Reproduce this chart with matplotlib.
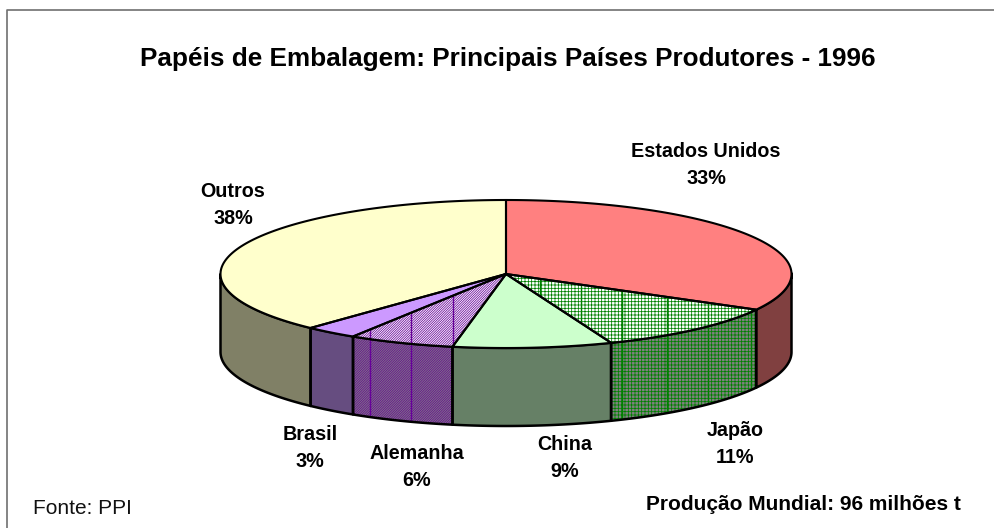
import numpy as np
import matplotlib
matplotlib.use('Agg')
import matplotlib.pyplot as plt

plt.rcParams['font.family'] = ['Liberation Sans', 'DejaVu Sans']
plt.rcParams['hatch.linewidth'] = 0.55

# dados
paises = ['Estados Unidos', 'Japão', 'China', 'Alemanha', 'Brasil', 'Outros']
valores = [33, 11, 9, 6, 3, 38]
cores = ['#FF8080', '#FFFFFF', '#CCFFCC', '#FFFFFF', '#CC99FF', '#FFFFCC']
cores_lado = ['#804040', '#808080', '#668066', '#808080', '#664D80', '#808066']
hachuras = [None, '+++++', None, '/' * 14, None, None]
cor_hachura = ['black', '#008000', 'black', '#660099', 'black', 'black']
riscos_x = [[], [540, 581, 622, 667, 708, 751], [], [370, 411, 453], [], []]
pos_rotulos = [(706, 165), (735, 444), (565, 458), (417, 467), (310, 448), (233, 205)]

# geometria da pizza em pixels
cx, cy = 506, 274
rx, ry = 285.5, 74
prof = 78

fig = plt.figure(figsize=(9.94, 5.28), dpi=100)
ax = fig.add_axes([0, 0, 1, 1])
ax.set_xlim(0, 994)
ax.set_ylim(528, 0)
ax.axis('off')


def borda(t):
    return cx + rx * np.sin(t), cy - ry * np.cos(t)


def pinta(xs, ys, i, cor, z):
    p = ax.fill(xs, ys, facecolor=cor, edgecolor='none', zorder=z)[0]
    if hachuras[i]:
        ax.fill(xs, ys, facecolor='none', edgecolor=cor_hachura[i],
                hatch=hachuras[i], lw=0, zorder=z)
        # os riscos verticais mais fortes dentro da hachura
        for rx_i in riscos_x[i]:
            r = ax.plot([rx_i, rx_i], [cy, cy + ry + prof + 10],
                        color=cor_hachura[i], lw=1.0, zorder=z)[0]
            r.set_clip_path(p)


# moldura: so topo e esquerda aparecem
ax.plot([7, 7, 994], [528, 10, 10], color='#707070', lw=1.2, zorder=1)

limites = np.radians(np.cumsum([0] + valores) * 3.6)

# lados primeiro, so a metade de baixo da elipse e visivel
for i in range(len(valores)):
    a, b = limites[i], limites[i + 1]
    a, b = max(a, np.pi / 2), min(b, 3 * np.pi / 2)
    if a >= b:
        continue
    t = np.linspace(a, b, 60)
    x, y = borda(t)
    xs = np.r_[x, x[::-1]]
    ys = np.r_[y, y[::-1] + prof]
    pinta(xs, ys, i, cores_lado[i], 2)
    ax.plot(xs.tolist() + [xs[0]], ys.tolist() + [ys[0]], color='black', lw=1.8, zorder=3)

# topo
for i in range(len(valores)):
    t = np.linspace(limites[i], limites[i + 1], 120)
    x, y = borda(t)
    xs = np.r_[cx, x]
    ys = np.r_[cy, y]
    pinta(xs, ys, i, cores[i], 4)
    ax.plot(np.r_[xs, cx], np.r_[ys, cy], color='black', lw=1.5, zorder=5)

# textos
ax.text(508, 59, 'Papéis de Embalagem: Principais Países Produtores - 1996',
        ha='center', va='center', fontsize=18.8, fontweight='bold')
for nome, v, p in zip(paises, valores, pos_rotulos):
    ax.text(p[0], p[1], f'{nome}\n{v}%', ha='center', va='center',
            fontsize=14.2, fontweight='bold', linespacing=1.5)
ax.text(33, 508, 'Fonte: PPI', ha='left', va='center', fontsize=15, color='#111111')
ax.text(803, 504, 'Produção Mundial: 96 milhões t', ha='center', va='center',
        fontsize=15, fontweight='bold')

fig.savefig('out.png', dpi=100)
